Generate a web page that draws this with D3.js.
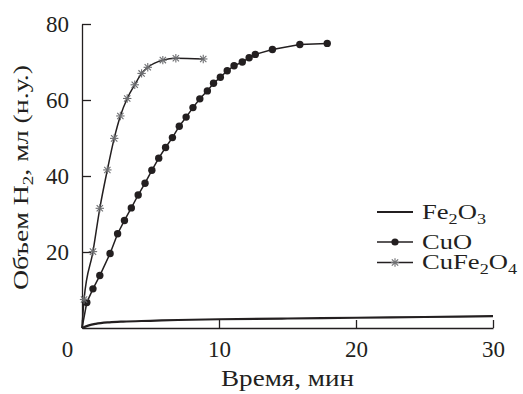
<!DOCTYPE html>
<html>
<head>
<meta charset="utf-8">
<script src="https://cdn.jsdelivr.net/npm/d3@7"></script>
<style>
  body { margin: 0; background: #fff; }
  svg text { font-family: "Liberation Serif", "DejaVu Serif", serif; fill: #231f20; }
</style>
</head>
<body>
<div id="chart"></div>
<script>
// values
const fe2o3Time = [0, 0.5, 1, 2, 3, 5, 7, 10, 15, 20, 25, 30];
const fe2o3Vol  = [0, 0.7, 1.1, 1.5, 1.7, 1.9, 2.1, 2.3, 2.5, 2.7, 2.9, 3.1];

const cuoTime = [0, 0.35, 0.8, 1.3, 2.05, 2.6, 3.1, 3.6, 4.1, 4.6, 5.1, 5.6, 6.1, 6.6, 7.1, 7.6, 8.1,
                 8.6, 9.15, 9.6, 10.1, 10.6, 11.1, 11.7, 12.2, 12.65, 13.9, 15.9, 17.9];
const cuoVol  = [0, 6.7, 10.3, 13.8, 19.6, 24.8, 28.3, 31.6, 35, 38.1, 41.5, 44.7, 47.5, 50.1, 53.1, 55.5, 58,
                 60.3, 62.4, 64.4, 66, 67.7, 69, 70, 71.1, 72, 73.3, 74.6, 74.9];

const cufeTime = [0, 0.15, 0.8, 1.3, 1.85, 2.35, 2.8, 3.3, 3.85, 4.35, 4.8, 5.9, 6.85, 8.85];
const cufeVol  = [0, 7.5, 20.1, 31.5, 41.6, 49.9, 55.8, 60.4, 64, 67, 68.6, 70.5, 71, 70.8];

const xTicks = [0, 10, 20, 30];
const yTicks = [20, 40, 60, 80];

const width = 523, height = 394;
const margin = { top: 24, right: 30, bottom: 66, left: 82 };

const svg = d3.select('#chart').append('svg')
    .attr('width', width)
    .attr('height', height);

const x = d3.scaleLinear().domain([0, 30]).range([margin.left, width - margin.right]);
const y = d3.scaleLinear().domain([0, 80]).range([height - margin.bottom, margin.top]);

const zip = (ts, vs) => ts.map((t, i) => ({ t, v: vs[i] }));
const fe2o3 = zip(fe2o3Time, fe2o3Vol);
const cuo = zip(cuoTime, cuoVol);
const cufe = zip(cufeTime, cufeVol);

// axes, ticks point inward
const xAxis = svg.append('g')
    .attr('transform', `translate(0,${y(0)})`)
    .call(d3.axisBottom(x).tickValues(xTicks).tickSizeInner(-8).tickSizeOuter(0).tickPadding(13));
const yAxis = svg.append('g')
    .attr('transform', `translate(${x(0)},0)`)
    .call(d3.axisLeft(y).tickValues(yTicks).tickSizeInner(-9).tickSizeOuter(0).tickPadding(13));

[xAxis, yAxis].forEach(g => {
    g.selectAll('path, line').attr('stroke', '#231f20').attr('stroke-width', 1.3);
    g.selectAll('text').style('font-size', '23px').attr('fill', '#231f20');
});
// the shared "0" sits left of the corner
xAxis.selectAll('.tick').filter(d => d === 0).select('text').attr('dx', -15);

// lines
const smooth = d3.line().x(d => x(d.t)).y(d => y(d.v)).curve(d3.curveMonotoneX);
const straight = d3.line().x(d => x(d.t)).y(d => y(d.v));

svg.append('path').datum(fe2o3)
    .attr('d', smooth).attr('fill', 'none').attr('stroke', '#231f20').attr('stroke-width', 2.2);

svg.append('path').datum(cuo)
    .attr('d', straight).attr('fill', 'none').attr('stroke', '#231f20').attr('stroke-width', 1.5);

svg.append('path').datum(cufe)
    .attr('d', smooth).attr('fill', 'none').attr('stroke', '#231f20').attr('stroke-width', 1.5);

// markers
svg.append('g').selectAll('circle')
    .data(cuo.filter(d => d.t > 0))
    .join('circle')
    .attr('cx', d => x(d.t)).attr('cy', d => y(d.v))
    .attr('r', 3.7).attr('fill', '#231f20');

const star = (g) => {
    const s = 4.2;
    g.append('line').attr('x1', -s).attr('x2', s).attr('y1', 0).attr('y2', 0);
    g.append('line').attr('x1', 0).attr('x2', 0).attr('y1', -s).attr('y2', s);
    g.append('line').attr('x1', -s * 0.75).attr('x2', s * 0.75).attr('y1', -s * 0.75).attr('y2', s * 0.75);
    g.append('line').attr('x1', -s * 0.75).attr('x2', s * 0.75).attr('y1', s * 0.75).attr('y2', -s * 0.75);
};

svg.append('g').selectAll('g')
    .data(cufe.filter(d => d.t > 0))
    .join('g')
    .attr('transform', d => `translate(${x(d.t)},${y(d.v)})`)
    .attr('stroke', '#6d6e71').attr('stroke-width', 1.1)
    .each(function () { star(d3.select(this)); });

// axis titles
svg.append('text')
    .attr('x', (x(0) + x(30)) / 2).attr('y', 386)
    .attr('text-anchor', 'middle')
    .attr('textLength', 133).attr('lengthAdjust', 'spacingAndGlyphs')
    .style('font-size', '23px')
    .text('Время, мин');

const yTitle = svg.append('text')
    .attr('transform', 'translate(28,290) rotate(-90)')
    .attr('textLength', 225).attr('lengthAdjust', 'spacingAndGlyphs')
    .style('font-size', '22px');
yTitle.append('tspan').text('Объем H');
yTitle.append('tspan').text('2').style('font-size', '15px').attr('dy', 5);
yTitle.append('tspan').text(', мл (н.у.)').attr('dy', -5);

// legend
const legendRows = [
    { label: ['Fe', '2', 'O', '3'], type: 'line', width: 64 },
    { label: ['CuO'], type: 'circle', width: 50 },
    { label: ['CuFe', '2', 'O', '4'], type: 'star', width: 95 }
];
const legendGap = [0, 30, 50.5];
const legend = svg.append('g').attr('transform', 'translate(377,212)');
legendRows.forEach((r, k) => {
    const row = legend.append('g').attr('transform', `translate(0,${legendGap[k]})`);
    row.append('line').attr('x1', 0).attr('x2', 36).attr('y1', 0).attr('y2', 0)
        .attr('stroke', '#231f20').attr('stroke-width', r.type === 'line' ? 2 : 1.5);
    if (r.type === 'circle') row.append('circle').attr('cx', 18).attr('r', 3.6).attr('fill', '#231f20');
    if (r.type === 'star') {
        const st = row.append('g').attr('transform', 'translate(18,0)')
            .attr('stroke', '#6d6e71').attr('stroke-width', 1.1);
        star(st);
    }
    const t = row.append('text').attr('x', 45).attr('y', 6.5)
        .attr('textLength', r.width).attr('lengthAdjust', 'spacingAndGlyphs')
        .style('font-size', '22px');
    r.label.forEach((part, i) => {
        const sub = i % 2 === 1;
        t.append('tspan').text(part)
            .style('font-size', sub ? '15px' : '22px')
            .attr('dy', sub ? 5 : (i > 0 ? -5 : 0));
    });
});
</script>
</body>
</html>
